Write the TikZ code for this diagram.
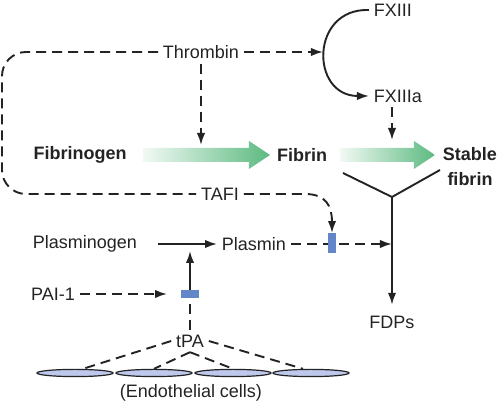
\documentclass[tikz,border=0pt]{standalone}
\usepackage{fontspec}
\setmainfont{Liberation Sans}
\usetikzlibrary{arrows.meta,shapes.geometric}
\definecolor{cgreen}{RGB}{92,186,128}
\definecolor{cbar}{RGB}{98,134,200}
\definecolor{ccell}{RGB}{190,200,236}
\definecolor{cink}{RGB}{35,35,35}
\tikzset{fibr/.style={x=0.5pt,y=-0.5pt,font=\fontsize{9}{11}\selectfont,color=cink,
                      line width=0.95pt,>={Latex[length=6pt,width=4.2pt]}}}
\tikzset{dsh/.style={dash pattern=on 5pt off 3pt},
         lbl/.style={inner sep=2pt},
         bold/.style={inner sep=2pt,font=\fontsize{9}{12.5}\selectfont\bfseries,align=center},
         cell/.style={ellipse,draw=cink,fill=ccell,line width=0.6pt,minimum width=38pt,
                      minimum height=3.6pt,inner sep=0pt},
         vbar/.style={minimum width=2.6pt,minimum height=9pt,inner sep=0pt},
         hbar/.style={minimum width=8pt,minimum height=3pt,inner sep=0pt},
         band/.style={left color=cgreen!8,right color=cgreen}}

\begin{document}
\begin{tikzpicture}[fibr]
    \useasboundingbox (0,0) rectangle (500,405);
    % coagulation row
    \shade[band] (143,148) -- (249,148) -- (249,141) -- (270,155) -- (249,169) -- (249,162) -- (143,162) -- cycle;
    \shade[band] (340,148) -- (414,148) -- (414,141) -- (435,155) -- (414,169) -- (414,162) -- (340,162) -- cycle;
    \node[lbl] (thr) at (201,52) {Thrombin};
    \node[lbl,anchor=west] (fxiii) at (369,10) {FXIII};
    \node[lbl,anchor=west] (fxiiia) at (369,96) {FXIIIa};
    \node[bold] (fbg) at (80,155) {Fibrinogen};
    \node[bold] (fbn) at (302,155) {Fibrin};
    \node[bold] (sfb) at (470,167) {Stable\\fibrin};
    \coordinate (g1) at (201,145);
    \coordinate (g2) at (392,140);
    \coordinate (arcl) at (323,52);
    \draw[dsh,->] (thr.south) -- (g1);
    \draw[dsh,->] (thr.east) -- (arcl);
    \draw[->] (fxiii.west) .. controls (310,8) and (310,96) .. (fxiiia.west);
    \draw[dsh,->] (fxiiia.south -| g2) -- (g2);
    % breakdown
    \coordinate (yl) at (343,173);
    \coordinate (yr) at (440,170);
    \coordinate (yj) at (392,197);
    \node[lbl] (fdp) at (392,322) {FDPs};
    \draw (yl) -- (yj) -- (yr);
    \draw[->,shorten >=3pt] (yj) -- (fdp.north);
    % fibrinolysis
    \node[lbl] (tafi) at (220,194) {TAFI};
    \node[lbl] (plg) at (85,244) {Plasminogen};
    \node[lbl] (pls) at (254,244) {Plasmin};
    \node[lbl] (pai) at (53,294) {PAI-1};
    \node[lbl] (tpa) at (190,341) {tPA};
    \node[vbar] (b1) at (332,243) {};
    \node[hbar] (b2) at (190,294) {};
    \coordinate (yv) at (392,244);
    \coordinate (tip) at (190,251);
    \draw[dsh,rounded corners=12pt] (thr.west) -- (2,52) -- (2,194) -- (tafi.west);
    \draw[dsh,->] (tafi.east) -- (305,194) .. controls (326,194) and (332,206) .. (b1.north);
    \draw[->,shorten <=8pt] (plg.east) -- (pls.west);
    \draw[dsh,->] (pls.east) -- (yv);
    \draw[dsh,->,shorten >=7pt] (pai.east) -- (b2.west);
    \draw[dsh] (tpa.north) -- (b2);
    \draw[->] (b2) -- (tip);
    \foreach \b in {b1,b2} \fill[cbar] (\b.south west) rectangle (\b.north east);
    % endothelium
    \foreach \i/\x in {1/75,2/154,3/233,4/311} \node[cell] (c\i) at (\x,373) {};
    \draw[dsh] (tpa.west) -- ([xshift=4pt]c1.north);
    \draw[dsh] (tpa.south) -- (c2.north);
    \draw[dsh] (tpa.south) -- (c3.north);
    \draw[dsh] (tpa.east) -- ([xshift=-4pt]c4.north);
    \node[lbl] (endo) at (191,393) {(Endothelial cells)};
\end{tikzpicture}
\end{document}
